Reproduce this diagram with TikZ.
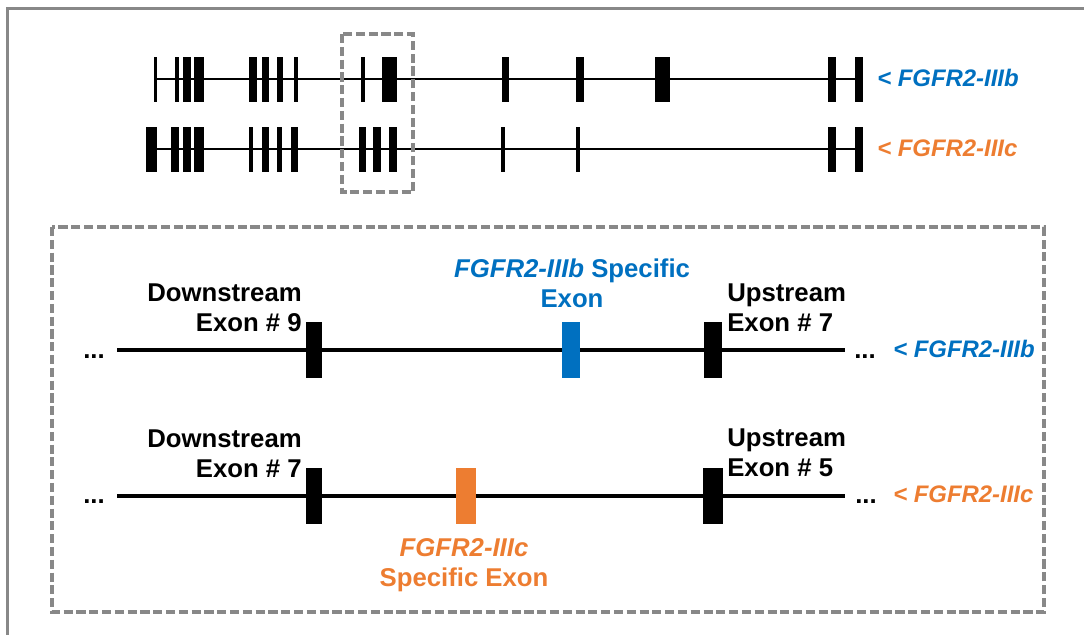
\documentclass[tikz,border=0pt]{standalone}
\usepackage{fontspec}
\setmainfont{Liberation Sans}
\usetikzlibrary{positioning}

\definecolor{isoB}{HTML}{0070C0}
\definecolor{isoC}{HTML}{ED7D31}
\definecolor{framegray}{HTML}{888888}

\tikzset{
  lbl/.style={inner sep=0pt, font=\fontsize{18.3}{21.5}\selectfont\bfseries},
  tag/.style={inner sep=0pt, anchor=base west, font=\fontsize{17}{20}\selectfont\bfseries\itshape},
  dashbox/.style={draw=framegray, line width=2.2pt, dash pattern=on 6.5pt off 2.6pt},
  exon/.style={fill=black, draw=none, inner sep=0pt, minimum width=0.4cm, minimum height=1.4cm},
}

\begin{document}
\begin{tikzpicture}[x=0.025cm, y=-0.025cm]

\useasboundingbox (0,0) rectangle (1084,634);
\draw[framegray, line width=2.6pt] (7.5,8.5) rectangle (1200,800);

% whole genes
\coordinate (b1) at (155,79);
\coordinate (b2) at (863,79);
\coordinate (c1) at (146,149);
\coordinate (c2) at (863,149);

\draw[line width=1.8pt] (b1) -- (b2);
\draw[line width=1.8pt] (c1) -- (c2);

\foreach \l/\r in {153.5/157,175/179,183/191,194/204,249/257,262/269,277/283,294/298,
                   361/365,382/397,502/509,576/584,655/670,828/836,855/863}
  \fill (\l,56.5) rectangle (\r,101.5);
\foreach \l/\r in {146/157,171/179,183/191,194/204,249/253,262/269,277/282,291/298,
                   359/366,373/381,389/397,501/505,576/580,828/836,855/863}
  \fill (\l,126.5) rectangle (\r,171.5);

\node[tag, text=isoB] (tb) at (877,86) {< FGFR2-IIIb};
\node[tag, text=isoC] (tc) at (877,156) {< FGFR2-IIIc};

\draw[dashbox] (342,34) rectangle (413,192);

% zoomed region
\draw[dashbox] (52,227) rectangle (1044,612);

\coordinate (A1) at (117,350);
\coordinate (A2) at (845,350);
\coordinate (B1) at (117,496);
\coordinate (B2) at (845,496);

\draw[line width=2.4pt] (A1) -- (A2);
\draw[line width=2.4pt] (B1) -- (B2);

\node[exon] (d9) at (314,350) {};
\node[exon, fill=isoB, minimum width=0.43cm] (sb) at (571,350) {};
\node[exon, minimum width=0.45cm] (u7) at (713,350) {};

\node[exon] (d7) at (314,496) {};
\node[exon, fill=isoC, minimum width=0.5cm] (sc) at (466,496) {};
\node[exon, minimum width=0.48cm] (u5) at (713,496) {};

\node[lbl, align=right, anchor=south east] at (302,332) {Downstream\\Exon \# 9};
\node[lbl, align=left, anchor=south west] at (727,332) {Upstream\\Exon \# 7};
\node[lbl, align=center, anchor=south, text=isoB] at (572,308) {\textit{FGFR2-IIIb} Specific\\Exon};

\node[lbl, align=right, anchor=south east] at (302,478) {Downstream\\Exon \# 7};
\node[lbl, align=left, anchor=south west] at (727,477) {Upstream\\Exon \# 5};
\node[lbl, align=center, anchor=north, text=isoC] at (464,538) {\textit{FGFR2-IIIc}\\Specific Exon};

\node[lbl, anchor=base west] at (83,358) {...};
\node[lbl, anchor=base west] at (854,358) {...};
\node[lbl, anchor=base west] at (83,503) {...};
\node[lbl, anchor=base west] at (855,503) {...};

\node[tag, text=isoB] (lb) at (893,357) {< FGFR2-IIIb};
\node[tag, text=isoC] (lc) at (893,502) {< FGFR2-IIIc};

\end{tikzpicture}
\end{document}
